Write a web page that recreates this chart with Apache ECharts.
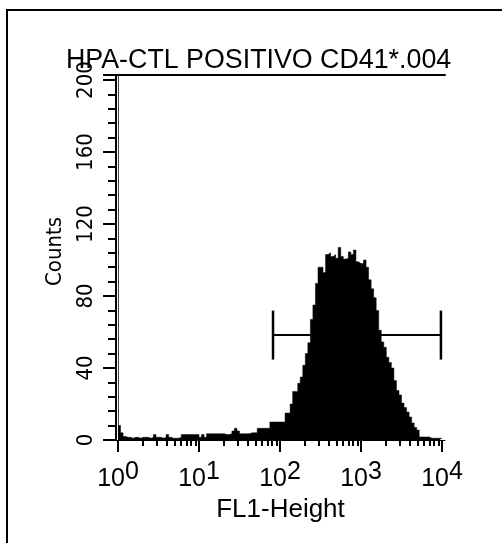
<!DOCTYPE html>
<html>
<head>
<meta charset="utf-8">
<script src="https://cdn.jsdelivr.net/npm/echarts@6/dist/echarts.min.js"></script>
<style>
html,body{margin:0;padding:0;background:#fff;}
#chart{width:502px;height:543px;}
</style>
</head>
<body>
<div id="chart"></div>
<script>
// ---- data ----
const titleText = 'HPA-CTL POSITIVO CD41*.004';
const xName = 'FL1-Height';
const yName = 'Counts';
const yTicks = [0, 40, 80, 120, 160, 200];
const xMajorTicks = [1, 10, 100, 1000, 10000];
const xMinorTicks = [2,3,4,5,6,7,8,9,20,30,40,50,60,70,80,90,200,300,400,500,600,700,800,900,2000,3000,4000,5000,6000,7000,8000,9000];
// 128 histogram channels (log-spaced, 32 per decade), counts per channel
const counts = [
  8,4,2,1.5,1.5,1,1.5,1.5,1,1.5,1.5,1.5,1,1.5,3,1.5,
  1.5,1,1.5,3,1.5,1,1,1,1.5,3,3,3,3,3,3,3,
  1.5,3,1.5,3.5,3.5,3.5,3.5,3.5,3.5,3.5,3,3,3.5,5,6.5,5,
  3.5,3.5,3.5,3.5,4,4,4,6.5,6.5,6.5,6.5,6.5,10,10,10,10,
  10,10,15,15,20,27,27,31.5,35,41.5,48,54,67,75,87,96,
  96,93,103,104,102,103,101,107,102,100.5,101,104.5,103,105.5,99,98,
  98,100,96,89,84,79,72,61,54.5,51.5,46,43,40,33,27.5,25,
  20.5,18,15.5,12.8,9.5,7,5.5,1.7,1.7,1.7,1.7,1,1,1,1,1
];
const gateRange = [82, 9700];
const gateLevel = 58.3;

// ---- axis extents (plot frame is slightly wider than 10^0..10^4) ----
const padLeftDec = 2 / 81, padRightDec = 3 / 81;   // decades of padding
const xLogMin = Math.pow(10, -padLeftDec);
const xLogMax = Math.pow(10, 4 + padRightDec);
const chMin = -padLeftDec * 32, chMax = counts.length + padRightDec * 32;

// ---- build ----
const histData = counts.map((c, i) => [i, c]);
histData.push([counts.length, counts[counts.length - 1]]);

const font = 'Liberation Sans';
const narrow = "'Liberation Sans Narrow', 'DejaVu Sans Condensed', sans-serif";
const chart = echarts.init(document.getElementById('chart'), null, {renderer: 'canvas'});
chart.setOption({
  animation: false,
  backgroundColor: '#fff',
  title: {
    text: titleText,
    left: 61, top: 42,
    textStyle: {fontFamily: font, fontSize: 26.8, fontWeight: 'normal', color: '#000'}
  },
  grid: {left: 116, right: 57, top: 75, bottom: 103, containLabel: false},
  graphic: [{
    type: 'rect', silent: true, z: -1,
    shape: {x: 7, y: 10, width: 700, height: 700},
    style: {fill: 'none', stroke: '#000', lineWidth: 2}
  }],
  xAxis: [
    {
      type: 'log', logBase: 10, min: xLogMin, max: xLogMax, position: 'bottom',
      axisLine: {show: true, lineStyle: {color: '#000', width: 1}},
      axisTick: {show: true, inside: false, length: 12, customValues: xMajorTicks, lineStyle: {color: '#000', width: 2}},
      splitLine: {show: false},
      axisLabel: {
        show: true, margin: 20, customValues: xMajorTicks,
        formatter: v => '{b|10}{s|' + Math.round(Math.log10(v)) + '}',
        rich: {
          b: {fontFamily: font, fontSize: 25, color: '#000', lineHeight: 32, verticalAlign: 'bottom'},
          s: {fontFamily: font, fontSize: 25, color: '#000', lineHeight: 32, verticalAlign: 'top'}
        }
      },
      name: xName, nameLocation: 'middle', nameGap: 53,
      nameTextStyle: {fontFamily: font, fontSize: 26, color: '#000'}
    },
    {
      type: 'log', logBase: 10, min: xLogMin, max: xLogMax, position: 'bottom',
      axisLine: {show: false},
      axisTick: {show: true, inside: false, length: 6, customValues: xMinorTicks, lineStyle: {color: '#000', width: 2}},
      axisLabel: {show: false}, splitLine: {show: false}
    },
    {
      type: 'value', min: 0, max: 1, position: 'top',
      axisLine: {show: true, lineStyle: {color: '#000', width: 2}},
      axisTick: {show: false}, axisLabel: {show: false}, splitLine: {show: false}
    },
    {
      type: 'value', min: chMin, max: chMax, show: false, gridIndex: 0
    }
  ],
  yAxis: [
    {
      type: 'value', min: 0, max: 202.8, interval: 40, position: 'left',
      axisLine: {show: true, lineStyle: {color: '#000', width: 2}},
      axisTick: {show: true, inside: false, length: 13, lineStyle: {color: '#000', width: 2}},
      minorTick: {show: true, splitNumber: 5, length: 8, lineStyle: {color: '#000', width: 2}},
      splitLine: {show: false}, minorSplitLine: {show: false},
      axisLabel: {show: true, rotate: 90, margin: 19, showMaxLabel: false,
        fontFamily: narrow, fontSize: 22, color: '#000'},
      name: yName, nameLocation: 'middle', nameGap: 50, nameRotate: 90,
      nameTextStyle: {fontFamily: narrow, fontSize: 22, color: '#000', padding: [0, 0, 0, 12]}
    },
    {
      type: 'value', min: 0, max: 1, position: 'right',
      axisLine: {show: true, lineStyle: {color: '#444', width: 1}},
      axisTick: {show: false}, axisLabel: {show: false}, splitLine: {show: false}
    }
  ],
  series: [
    {
      type: 'line', xAxisIndex: 3, yAxisIndex: 0,
      data: histData, step: 'end', showSymbol: false, symbol: 'none',
      lineStyle: {color: '#000', width: 0.5},
      areaStyle: {color: '#000', opacity: 1, origin: 'start'},
      z: 2
    },
    {
      type: 'line', xAxisIndex: 0, yAxisIndex: 0,
      data: [[gateRange[0], gateLevel], [gateRange[1], gateLevel]],
      symbol: 'rect', symbolSize: [2.5, 49], showSymbol: true,
      itemStyle: {color: '#000'},
      lineStyle: {color: '#000', width: 2},
      z: 3
    }
  ]
});
</script>
</body>
</html>
